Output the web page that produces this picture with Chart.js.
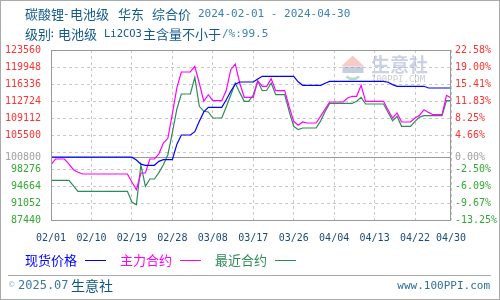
<!DOCTYPE html>
<html>
<head>
<meta charset="utf-8">
<script src="https://cdn.jsdelivr.net/npm/chart.js@4.4.1/dist/chart.umd.min.js"></script>
<style>
  html, body { margin: 0; padding: 0; background: #fff; }
  #wrap { width: 500px; height: 300px; }
</style>
</head>
<body>
<div id="wrap"><canvas id="priceChart" width="500" height="300"></canvas></div>
<script>
// day index 0 = 2024-02-01 ... 89 = 2024-04-30
const tickDays = [0, 9, 18, 27, 36, 45, 54, 63, 72, 81, 89];
const tickLabels = ["02/01", "02/10", "02/19", "02/28", "03/08", "03/17", "03/26", "04/04", "04/13", "04/22", "04/30"];

const basePrice = 100800;
const yTicks = [87440, 91052, 94664, 98276, 100800, 101888, 105500, 109112, 112724, 116336, 119948, 123560];

// 现货价格
const spotPrice = [
  100800, 100800, 100800, 100800, 100800, 100800, 100800, 100800, 100800, 100800,
  100800, 100800, 100800, 100800, 100800, 100800, 100800, 100800, 100800, 100200,
  99300, 99060, 99060, 99060, 99900, 100250, 100250, 100250, 103500, 105500,
  105500, 105500, 106200, 108400, 110400, 111390, 111390, 111390, 111390, 113000,
  114800, 116300, 116760, 116760, 116760, 116760, 117400, 117970, 117970, 117970,
  117970, 117970, 117970, 117970, 117970, 116800, 116060, 116060, 116060, 116060,
  116060, 116500, 116900, 116900, 116900, 116900, 116900, 116900, 116900, 116900,
  116900, 116900, 116900, 116900, 116900, 116700, 116200, 115850, 115850, 115850,
  115850, 115850, 115850, 115850, 115490, 115490, 115490, 115490, 115490, 115490
];

// 主力合约
const mainContract = [
  99190, 100400, 100400, 100400, 99300, 98130, 97600, 97210, 97210, 97210,
  97210, 97210, 97210, 97210, 97210, 97210, 97210, 97210, 95500, 93880,
  97430, 97430, 100400, 100400, 101500, 103800, 104800, 110000, 115500, 118890,
  118890, 118890, 120100, 116500, 112660, 114060, 112790, 112790, 112790, 115000,
  119380, 120590, 116500, 113510, 113510, 113510, 117040, 115850, 115850, 117460,
  114920, 114920, 114920, 111500, 108410, 107560, 108260, 108050, 108050, 108050,
  109500, 111000, 112510, 112510, 112510, 112510, 113360, 113720, 113720, 116060,
  112660, 112660, 112660, 112660, 112660, 110800, 109110, 110180, 108260, 108260,
  108260, 109110, 109700, 110870, 110300, 109810, 109810, 109810, 113930, 113360
];

// 最近合约
const nearContract = [
  95870, 95870, 95870, 95870, 95870, 94700, 93540, 93540, 93540, 93540,
  93540, 93540, 93540, 93540, 93540, 93540, 93540, 93540, 91270, 90690,
  99190, 94600, 96150, 96150, 97500, 99190, 101310, 106000, 111000, 114210,
  114210, 114210, 117760, 111600, 110540, 110400, 109110, 109110, 109110, 111500,
  114000, 116550, 114500, 112660, 112660, 114000, 116900, 114920, 115000, 116550,
  114060, 114060, 114060, 110500, 107350, 106630, 106990, 106990, 106990, 106990,
  108500, 110500, 112200, 112200, 112200, 112200, 112200, 112200, 112660, 113510,
  112090, 112090, 112090, 112090, 112090, 110300, 108540, 109470, 107350, 107350,
  107350, 108410, 109300, 109600, 109600, 109600, 109600, 109600, 112790, 112790
];

const CJK = "'Noto Sans CJK SC'";
const MONO = "'DejaVu Sans Mono'";

function toPoints(arr) {
  return arr.map((v, i) => ({ x: i, y: v }));
}

function labelColor(v) {
  if (v > basePrice) return "#ff3333";
  if (v === basePrice) return "#a0a0a0";
  return "#33aa33";
}

function seg(ctx, text, x, y, font, color) {
  ctx.font = font;
  ctx.fillStyle = color;
  ctx.fillText(text, x, y);
}

const decorPlugin = {
  id: "decor",
  beforeDraw(chart) {
    const ctx = chart.ctx;
    ctx.save();
    ctx.fillStyle = "#fff";
    ctx.fillRect(0, 0, chart.width, chart.height);
    ctx.restore();
  },
  beforeDatasetsDraw(chart) {
    // watermark
    const ctx = chart.ctx;
    ctx.save();
    ctx.globalAlpha = 0.45;
    ctx.fillStyle = "#f08a80";
    ctx.beginPath();
    ctx.moveTo(341.5, 66);
    ctx.lineTo(352.7, 55.5);
    ctx.lineTo(364, 66);
    ctx.closePath();
    ctx.fill();
    ctx.fillStyle = "#8090b8";
    ctx.fillRect(342.5, 66.5, 21, 6.5);
    ctx.strokeStyle = "#60b070";
    ctx.lineWidth = 2.5;
    ctx.beginPath();
    ctx.arc(352.7, 70, 9, 0.25 * Math.PI, 0.75 * Math.PI);
    ctx.stroke();
    ctx.globalAlpha = 0.5;
    ctx.textBaseline = "middle";
    seg(ctx, "生意社", 371, 65, "bold 19px " + CJK, "#9aa6cc");
    seg(ctx, "100PPI.COM", 371, 80, "9px " + MONO, "#999999");
    ctx.restore();
  },
  afterDraw(chart) {
    const ctx = chart.ctx;
    const a = chart.chartArea;
    ctx.save();
    // plot frame
    ctx.strokeStyle = "#999";
    ctx.lineWidth = 1;
    ctx.strokeRect(Math.round(a.left) + 0.5, Math.round(a.top) + 0.5,
      Math.round(a.right - a.left) - 1, Math.round(a.bottom - a.top));

    // titles
    ctx.textBaseline = "middle";
    ctx.textAlign = "left";
    const dark = "#135a8c";
    const light = "#3c7fb3";
    seg(ctx, "碳酸锂", 25, 14, "13px " + CJK, dark);
    seg(ctx, "-", 63, 14, "11px " + MONO, dark);
    seg(ctx, "电池级", 70, 14, "13px " + CJK, dark);
    seg(ctx, "华东", 118, 14, "13px " + CJK, dark);
    seg(ctx, "综合价", 152, 14, "13px " + CJK, dark);
    seg(ctx, "2024-02-01 - 2024-04-30", 198, 14, "11px " + MONO, light);
    seg(ctx, "级别", 25, 34, "13px " + CJK, dark);
    seg(ctx, ":", 49, 34, "11px " + MONO, dark);
    seg(ctx, "电池级", 58, 34, "13px " + CJK, dark);
    seg(ctx, "Li2CO3", 104, 34, "10.5px " + MONO, dark);
    seg(ctx, "主含量不小于", 143, 34, "13px " + CJK, dark);
    seg(ctx, "/%:99.5", 222, 34, "11px " + MONO, light);

    // legend
    const legend = [
      { text: "现货价格", x: 25, color: "#0000ff", l: 85 },
      { text: "主力合约", x: 120, color: "#ff00ff", l: 180 },
      { text: "最近合约", x: 215, color: "#2e8b57", l: 275 }
    ];
    legend.forEach((it) => {
      seg(ctx, it.text, it.x, 260, "13px " + CJK, it.color);
      ctx.strokeStyle = it.color;
      ctx.lineWidth = 1;
      ctx.beginPath();
      ctx.moveTo(it.l, 260.5);
      ctx.lineTo(it.l + 21, 260.5);
      ctx.stroke();
    });

    // footer
    ctx.strokeStyle = "#aaa";
    ctx.beginPath();
    ctx.moveTo(8, 275.5);
    ctx.lineTo(491, 275.5);
    ctx.stroke();
    seg(ctx, "©", 9, 285, "9px " + MONO, "#9ab8d8");
    seg(ctx, "2025.07", 18, 286, "12px " + MONO, "#3a78a8");
    seg(ctx, "生意社", 71, 286, "14px " + CJK, "#0e5580");
    ctx.textAlign = "right";
    seg(ctx, "www.100PPI.com", 490, 286, "11px " + MONO, "#2f6f9f");

    // outer border
    ctx.strokeStyle = "#aaa";
    ctx.strokeRect(0.5, 0.5, chart.width - 1, chart.height - 1);
    ctx.restore();
  }
};

const canvas = document.getElementById("priceChart");
const ctx = canvas.getContext("2d");

new Chart(ctx, {
  type: "line",
  data: {
    datasets: [
      { label: "现货价格", data: toPoints(spotPrice), borderColor: "#0000ff" },
      { label: "主力合约", data: toPoints(mainContract), borderColor: "#ff00ff" },
      { label: "最近合约", data: toPoints(nearContract), borderColor: "#2e8b57" }
    ]
  },
  options: {
    responsive: false,
    animation: false,
    layout: { padding: { top: 50, left: 0, right: 0, bottom: 0 } },
    elements: {
      line: { borderWidth: 1.2, tension: 0, fill: false },
      point: { radius: 0, hoverRadius: 0 }
    },
    plugins: {
      legend: { display: false },
      tooltip: { enabled: false },
      title: { display: false }
    },
    scales: {
      x: {
        type: "linear",
        min: 0,
        max: 89,
        afterBuildTicks: (scale) => { scale.ticks = tickDays.map((d) => ({ value: d })); },
        afterFit: (scale) => { scale.height = 80; },
        ticks: {
          autoSkip: false,
          maxRotation: 0,
          padding: 12,
          color: "#1a4a7a",
          font: { family: "DejaVu Sans Mono", size: 10 },
          callback: (v) => tickLabels[tickDays.indexOf(v)]
        },
        grid: { color: "#c8c8c8", drawTicks: false },
        border: { display: false, dash: [3, 3] }
      },
      y: {
        position: "left",
        min: 87440,
        max: 123560,
        afterBuildTicks: (scale) => { scale.ticks = yTicks.map((v) => ({ value: v })); },
        afterFit: (scale) => { scale.width = 51; },
        ticks: {
          autoSkip: false,
          padding: 10,
          font: { family: "DejaVu Sans Mono", size: 10 },
          color: (c) => labelColor(c.tick ? c.tick.value : 0),
          callback: (v) => (v === 101888 ? "" : String(v))
        },
        grid: {
          drawTicks: false,
          color: (c) => (c.tick && c.tick.value === basePrice ? "#999999" : "#c8c8c8")
        },
        border: {
          display: false,
          dash: (c) => (c.tick && c.tick.value === basePrice ? [] : [3, 3])
        }
      },
      y1: {
        position: "right",
        min: 87440,
        max: 123560,
        afterBuildTicks: (scale) => { scale.ticks = yTicks.map((v) => ({ value: v })); },
        afterFit: (scale) => { scale.width = 49; },
        ticks: {
          autoSkip: false,
          padding: 4,
          font: { family: "DejaVu Sans Mono", size: 10 },
          color: (c) => labelColor(c.tick ? c.tick.value : 0),
          callback: (v) => (v === 101888 ? "" : ((v / basePrice - 1) * 100).toFixed(2) + "%")
        },
        grid: { display: false, drawTicks: false },
        border: { display: false }
      }
    }
  },
  plugins: [decorPlugin]
});
</script>
</body>
</html>
